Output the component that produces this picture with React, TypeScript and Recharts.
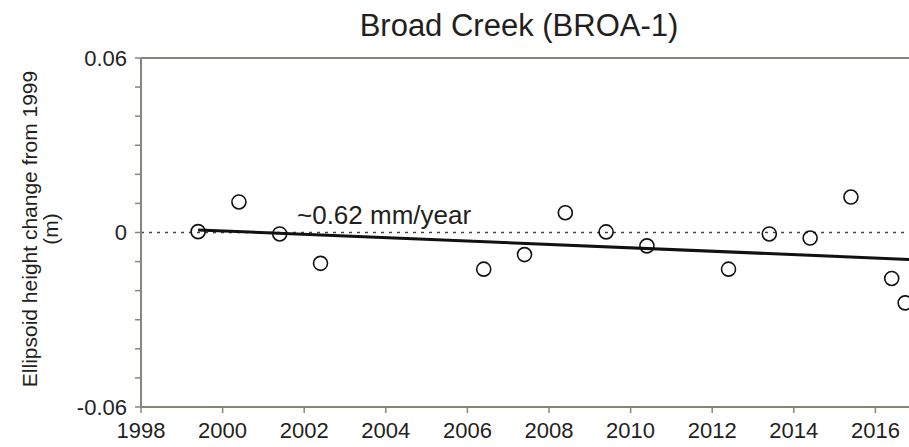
import {
  ComposedChart,
  Scatter,
  Line,
  XAxis,
  YAxis,
  ReferenceLine,
} from "recharts";

// survey epochs (decimal year) and ellipsoid height change (m)
const years = [
  1999.4, 2000.4, 2001.4, 2002.4, 2006.4, 2007.4, 2008.4, 2009.4, 2010.4,
  2012.4, 2013.4, 2014.4, 2015.4, 2016.4, 2016.73,
];
const heights = [
  0.0003, 0.0105, -0.0005, -0.0106, -0.0126, -0.0076, 0.0068, 0.0002,
  -0.0046, -0.0126, -0.0005, -0.0019, 0.0122, -0.0158, -0.0242,
];

// linear trend end points
const trendYears = [1999.4, 2017.6];
const trendHeights = [0.0009, -0.0097];

const xTicks = [1998, 2000, 2002, 2004, 2006, 2008, 2010, 2012, 2014, 2016];
const yTicks = [
  -0.06, -0.05, -0.04, -0.03, -0.02, -0.01, 0, 0.01, 0.02, 0.03, 0.04, 0.05,
  0.06,
];

const points = years.map((year, i) => ({ year, h: heights[i] }));
const trend = trendYears.map((year, i) => ({ year, h: trendHeights[i] }));

const font = "'Liberation Sans', Arial, sans-serif";
const axisGrey = "#8a847f";
const ink = "#231f20";

const formatY = (v: number) => {
  if (Math.abs(v) < 1e-9) return "0";
  if (Math.abs(v) > 0.055) return v > 0 ? "0.06" : "-0.06";
  return "";
};

const XTick = (props: any) => {
  const { x, y, payload } = props;
  return (
    <text x={x} y={y} dy="0.72em" textAnchor="middle" fontSize={22} fill={ink} fontFamily={font}>
      {payload.value}
    </text>
  );
};

const YTick = (props: any) => {
  const { x, y, payload } = props;
  const label = formatY(payload.value);
  if (!label) return null;
  return (
    <text x={x} y={y} dy="0.36em" textAnchor="end" fontSize={22} fill={ink} fontFamily={font}>
      {label}
    </text>
  );
};

const Ring = (props: any) => {
  const { cx, cy } = props;
  if (cx == null || cy == null) return null;
  return <circle cx={cx} cy={cy} r={7} fill="none" stroke="#111" strokeWidth={1.6} />;
};

const YTitle = () => (
  <g fill={ink} fontSize={21} fontFamily={font}>
    <text x={37} y={229} textAnchor="middle" transform="rotate(-90, 37, 229)">
      Ellipsoid height change from 1999
    </text>
    <text x={58} y={229} textAnchor="middle" transform="rotate(-90, 58, 229)">
      (m)
    </text>
  </g>
);

const App = () => {
  return (
    <div
      style={{
        position: "fixed",
        left: 0,
        top: 0,
        width: 909,
        height: 447,
        overflow: "hidden",
        background: "#fff",
        fontFamily: font,
      }}
    >
      <ComposedChart
        width={967}
        height={447}
        margin={{ top: 58, right: 10, bottom: 0, left: 0 }}
        style={{ fontFamily: font }}
      >
        <XAxis
          type="number"
          dataKey="year"
          domain={[1998, 2018]}
          ticks={xTicks}
          interval={0}
          allowDataOverflow
          height={40}
          tickSize={6}
          tickMargin={9}
          axisLine={{ stroke: axisGrey, strokeWidth: 2 }}
          tickLine={{ stroke: axisGrey, strokeWidth: 1.5 }}
          tick={XTick}
        />
        <YAxis
          type="number"
          dataKey="h"
          domain={[-0.06, 0.06]}
          ticks={yTicks}
          interval={0}
          allowDataOverflow
          width={141}
          tickSize={6}
          tickMargin={8}
          axisLine={{ stroke: axisGrey, strokeWidth: 2 }}
          tickLine={{ stroke: axisGrey, strokeWidth: 1.5 }}
          tick={YTick}
          label={{ content: () => <YTitle /> }}
        />
        <ReferenceLine y={0.06} stroke={axisGrey} strokeWidth={2} />
        <ReferenceLine y={0} stroke="#444" strokeWidth={1.5} strokeDasharray="3 5" />
        <Scatter data={points} dataKey="h" shape={Ring} isAnimationActive={false} />
        <Line
          data={trend}
          dataKey="h"
          type="linear"
          stroke="#111"
          strokeWidth={3}
          dot={false}
          activeDot={false}
          isAnimationActive={false}
        />
      </ComposedChart>
      <svg
        width={909}
        height={447}
        style={{ position: "absolute", left: 0, top: 0, pointerEvents: "none" }}
      >
        <text x={519} y={36} textAnchor="middle" fontSize={31} fill={ink} fontFamily={font}>
          Broad Creek (BROA-1)
        </text>
        <text x={297} y={224} fontSize={26} fill={ink} fontFamily={font}>
          ~0.62 mm/year
        </text>
      </svg>
    </div>
  );
};

export default App;
